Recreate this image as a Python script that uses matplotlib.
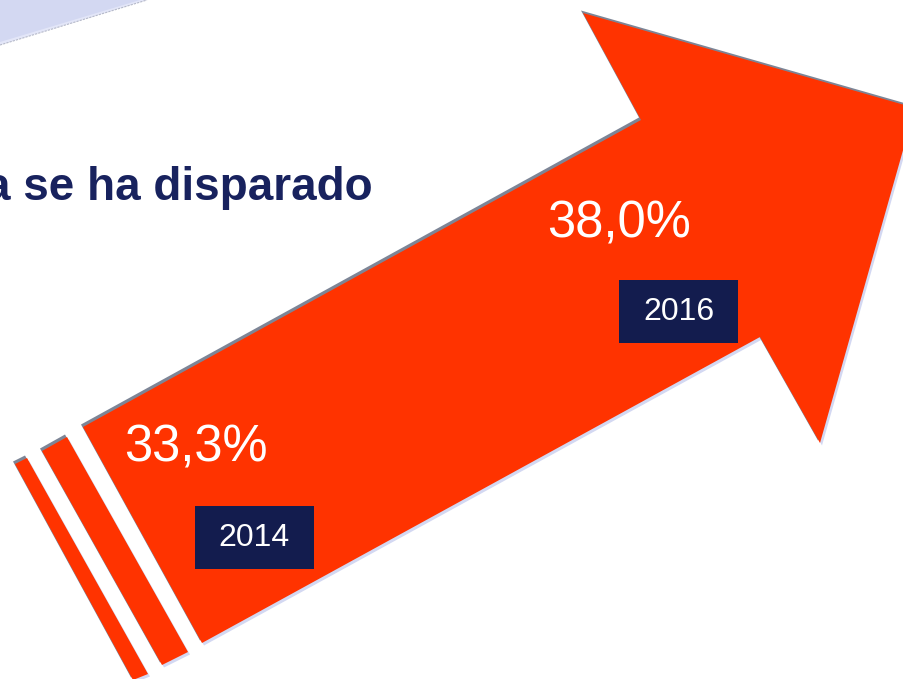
import matplotlib.pyplot as plt
from matplotlib.patches import Polygon, Rectangle

# data shown on the arrow
years = ['2014', '2016']
shares = [33.3, 38.0]
title = "a se ha disparado"

# colours
RED = '#ff3300'
NAVY = '#131c4e'
GREY = '#7d8596'
LAVENDER = '#d3d8f2'

# layout (pixel coords, y grows downwards)
value_pos = [(124, 462), (547, 238)]
box_pos = [(195, 506, 119, 63), (619, 280, 119, 63)]

arrow = [(83, 427), (641, 120), (583, 13), (915, 108), (820, 443), (760, 337), (202, 643)]
stripe_a = [(42, 451), (67, 437), (188, 652), (162, 665)]
stripe_b = [(15, 464), (27, 458), (148, 674), (133, 680)]

fig = plt.figure(figsize=(9.04, 6.79), dpi=100)
ax = fig.add_axes([0, 0, 1, 1])
ax.set_xlim(0, 904)
ax.set_ylim(679, 0)
ax.axis('off')

# light corner shape top-left
ax.add_patch(Polygon([(0, 0), (147, 0), (0, 45)], closed=True, fc='#e3e6f8', ec='none'))
ax.add_patch(Polygon([(0, 0), (140, 0), (0, 42)], closed=True, fc=LAVENDER, ec='none'))
ax.plot([0, 147], [45, 0], color='#b5b9c9', lw=0.8, ls=(0, (2, 1)))


def shifted(pts, dx, dy):
    return [(x + dx, y + dy) for x, y in pts]


# arrow pieces with a thin shadow on each side
for shape in [arrow, stripe_a, stripe_b]:
    ax.add_patch(Polygon(shifted(shape, 2, 2.5), closed=True, fc=LAVENDER, ec='none'))
    ax.add_patch(Polygon(shifted(shape, -2, -2.5), closed=True, fc=GREY, ec='none'))
    ax.add_patch(Polygon(shape, closed=True, fc=RED, ec='none'))

# values and year boxes
for yr, val, (vx, vy), (bx, by, bw, bh) in zip(years, shares, value_pos, box_pos):
    txt = f"{val:.1f}".replace('.', ',') + '%'
    ax.text(vx, vy, txt, color='white', fontsize=36.5, family='Liberation Sans',
            ha='left', va='baseline')
    ax.add_patch(Rectangle((bx, by), bw, bh, fc=NAVY, ec='none'))
    ax.text(bx + bw / 2, by + bh / 2 + 1, yr, color='white', fontsize=23,
            family='Liberation Sans', ha='center', va='center')

ax.text(373, 200, title, color='#18225e', fontsize=33, fontweight='bold',
        family='Liberation Sans', ha='right', va='baseline')

fig.savefig('out.png', dpi=100)
